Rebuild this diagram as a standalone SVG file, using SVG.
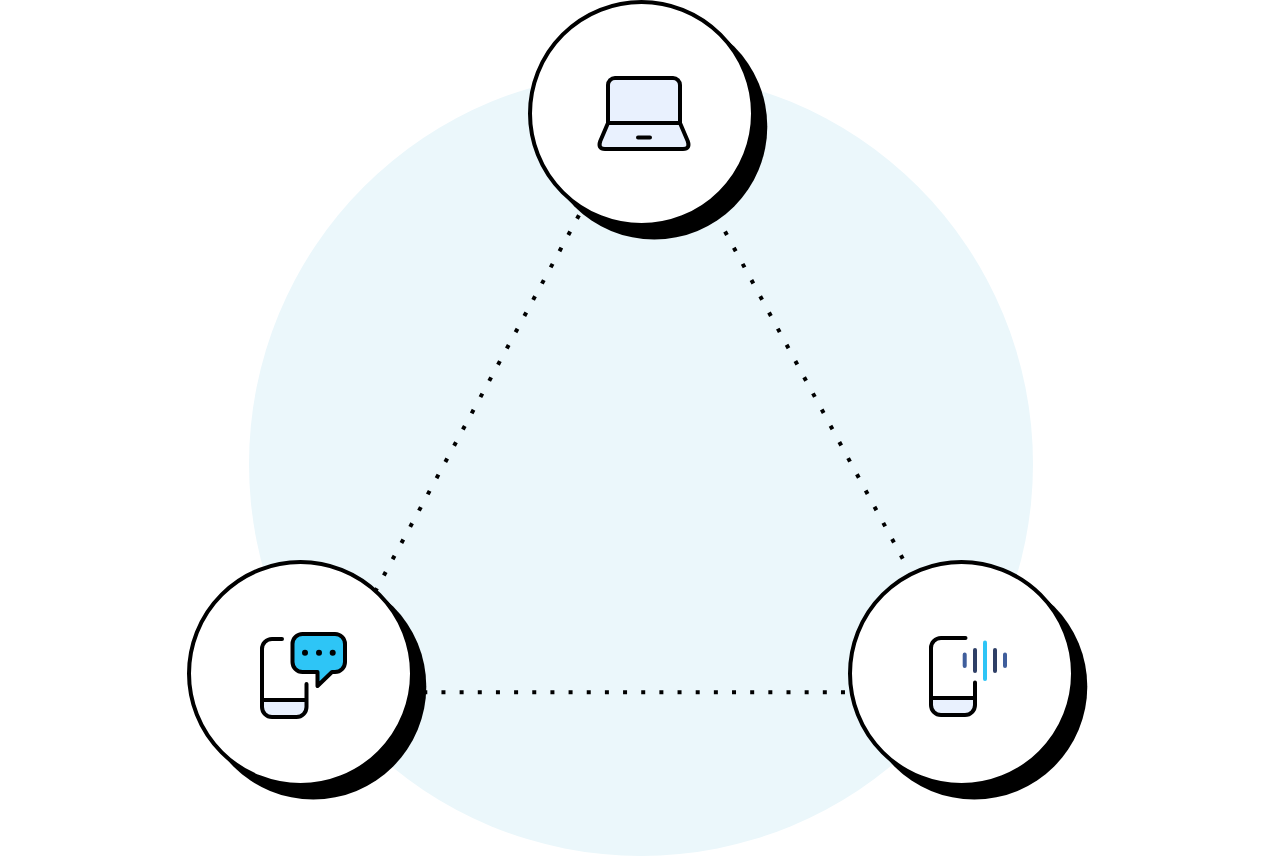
<svg xmlns="http://www.w3.org/2000/svg" width="1280" height="856" viewBox="0 0 1280 856">
<style>
.shadow{fill:#000}
.disc{fill:#fff;stroke:#000;stroke-width:4}
.dots{fill:none;stroke:#000;stroke-width:4}
.ic{fill:none;stroke:#000;stroke-width:4;stroke-linecap:round;stroke-linejoin:round}
.tint{fill:#E9F1FE}
.bar{fill:none;stroke-width:4;stroke-linecap:round}
</style>
<rect width="1280" height="856" fill="#fff"/>
<circle id="backdrop" cx="641" cy="464" r="392" fill="#EBF7FB"/>
<g id="connectors">
<path class="dots" stroke-dasharray="4 14.44" d="M578.95 215.24 L375 591.8"/>
<path class="dots" stroke-dasharray="4 14.42" d="M725.05 231.5 L903.7 560.5"/>
<path class="dots" stroke-dasharray="4 14.16" d="M423.3 692.3 L846 692.3"/>
</g>
<g id="node-laptop">
<circle class="shadow" cx="654.300" cy="126.500" r="113"/>
<circle class="disc" cx="641.500" cy="113.500" r="111.500"/>
<rect class="tint" x="608" y="78" width="72" height="45"/>
<path class="tint" d="M608 123H680L687.700 141Q690.500 149 683 149H605Q597.500 149 600.300 141Z"/>
<path class="ic" d="M608 123V85A7 7 0 0 1 615 78H673A7 7 0 0 1 680 85V123"/>
<path class="ic" d="M608 123H680L687.700 141Q690.500 149 683 149H605Q597.500 149 600.300 141Z"/>
<path class="ic" d="M638 137.500H650"/>
</g>
<g id="node-chat">
<circle class="shadow" cx="313.300" cy="686.500" r="113"/>
<circle class="disc" cx="300.500" cy="673.500" r="111.500"/>
<path class="tint" d="M262 700H306.500V707A10 10 0 0 1 296.500 717H272A10 10 0 0 1 262 707Z"/>
<path class="ic" d="M282 639H272A10 10 0 0 0 262 649V707A10 10 0 0 0 272 717H296.500A10 10 0 0 0 306.500 707V684M262 700H306.500"/>
<path class="ic" d="M302.500 634H335A10 10 0 0 1 345 644V662A10 10 0 0 1 335 672H332L317.500 686V672H302.500A10 10 0 0 1 292.500 662V644A10 10 0 0 1 302.500 634Z" style="fill:#2EC5F6"/>
<circle cx="305" cy="652.700" r="3"/>
<circle cx="319" cy="652.700" r="3"/>
<circle cx="332.700" cy="652.700" r="3"/>
</g>
<g id="node-voice">
<circle class="shadow" cx="974.300" cy="686.500" r="113"/>
<circle class="disc" cx="961.500" cy="673.500" r="111.500"/>
<path class="tint" d="M931 698H975V705A10 10 0 0 1 965 715H941A10 10 0 0 1 931 705Z"/>
<path class="ic" d="M965.500 638H941A10 10 0 0 0 931 648V705A10 10 0 0 0 941 715H965A10 10 0 0 0 975 705V682.500M931 698H975"/>
<path class="bar" stroke="#3F5E9C" d="M964.700 654.500V666M1005 654.500V666"/>
<path class="bar" stroke="#2E3F66" d="M975 650V671M995 650V671"/>
<path class="bar" stroke="#2EC5F6" d="M985 642.500V679"/>
</g>
</svg>
